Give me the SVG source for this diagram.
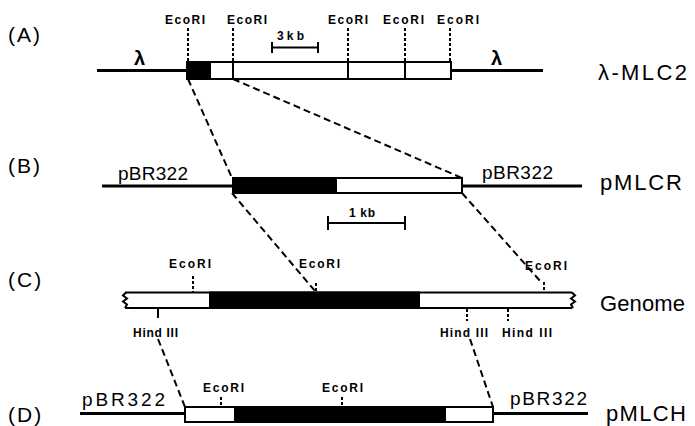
<svg xmlns="http://www.w3.org/2000/svg" width="695" height="426" viewBox="0 0 695 426">
<style>
text{font-family:"Liberation Sans",Arial,sans-serif;fill:#000}
.panel{font-size:21px;letter-spacing:2px}
.name{font-size:22px}
.site{font-size:12px;font-weight:bold}
.vec{font-size:19px}
.lam{font-size:20px;font-weight:bold}
.thick{stroke:#000;stroke-width:3;fill:none}
.box{stroke:#000;stroke-width:2;fill:#fff}
.blk{fill:#000;stroke:#000;stroke-width:2}
.div{stroke:#000;stroke-width:2}
.dot{stroke:#000;stroke-width:2;stroke-dasharray:3 2;fill:none}
.dash{stroke:#000;stroke-width:2;stroke-dasharray:7 4;fill:none}
.bar{stroke:#000;stroke-width:2;fill:none}
</style>
<rect width="695" height="426" fill="#fff"/>

<g id="panel-labels">
<text class="panel" x="8" y="42">(A)</text>
<text class="panel" x="8" y="173">(B)</text>
<text class="panel" x="8" y="287">(C)</text>
<text class="panel" x="8" y="422">(D)</text>
</g>

<g id="lambda-MLC2">
<line class="thick" x1="97" y1="70.5" x2="187" y2="70.5"/>
<line class="thick" x1="451" y1="70.5" x2="543" y2="70.5"/>
<rect class="box" x="187" y="62" width="264" height="17"/>
<rect class="blk" x="187" y="62" width="23" height="17"/>
<line class="div" x1="233" y1="62" x2="233" y2="79"/>
<line class="div" x1="348" y1="62" x2="348" y2="79"/>
<line class="div" x1="405" y1="62" x2="405" y2="79"/>
<line class="dot" x1="188" y1="28" x2="188" y2="62"/>
<line class="dot" x1="233" y1="28" x2="233" y2="62"/>
<line class="dot" x1="348" y1="28" x2="348" y2="62"/>
<line class="dot" x1="405" y1="28" x2="405" y2="62"/>
<line class="dot" x1="450" y1="28" x2="450" y2="62"/>
<text class="site" x="165" y="24" textLength="40">EcoRI</text>
<text class="site" x="227" y="24" textLength="40">EcoRI</text>
<text class="site" x="328" y="24" textLength="40">EcoRI</text>
<text class="site" x="383" y="24" textLength="41">EcoRI</text>
<text class="site" x="437" y="24" textLength="42">EcoRI</text>
<text class="lam" x="134" y="65">λ</text>
<text class="lam" x="491" y="65">λ</text>
<text class="name" x="598" y="80" textLength="89">λ-MLC2</text>
<path class="bar" d="M272,42V53M272,47.5H318M318,42V53"/>
<text class="site" x="277" y="40" textLength="27">3kb</text>
</g>

<g id="pMLCR">
<line class="thick" x1="102" y1="186" x2="233" y2="186"/>
<line class="thick" x1="462" y1="186" x2="582" y2="186"/>
<rect class="box" x="233" y="178" width="229" height="15"/>
<rect class="blk" x="233" y="178" width="103" height="15"/>
<text class="vec" x="118" y="180" textLength="70">pBR322</text>
<text class="vec" x="482" y="179" textLength="71">pBR322</text>
<text class="name" x="600" y="190" textLength="82">pMLCR</text>
<path class="bar" d="M328,216V230M328,223H405M405,216V230"/>
<text class="site" x="349" y="217" textLength="26">1 kb</text>
</g>

<g id="genome">
<rect x="125" y="292.5" width="447" height="15.5" fill="#fff"/>
<rect class="blk" x="210" y="292.5" width="209" height="15.5"/>
<path class="div" fill="none" d="M125,292.5H572M125,308H572"/>
<path class="div" fill="none" d="M126,292.5L123,295.5L127,298.5L123,301.5L127,304.5L125,308"/>
<path class="div" fill="none" d="M572,292.5L575,295.5L571,298.5L575,301.5L571,304.5L573,308"/>
<line class="dot" x1="193" y1="276" x2="193" y2="292"/>
<line class="dot" x1="316" y1="283" x2="316" y2="292"/>
<line class="dot" x1="544" y1="282" x2="544" y2="292"/>
<line class="div" x1="158" y1="308" x2="158" y2="318"/>
<line class="dot" x1="467" y1="309" x2="467" y2="321"/>
<line class="dot" x1="508" y1="309" x2="508" y2="321"/>
<text class="site" x="169" y="268" textLength="42">EcoRI</text>
<text class="site" x="299" y="268" textLength="41">EcoRI</text>
<text class="site" x="525" y="270" textLength="42">EcoRI</text>
<text class="site" x="133" y="337" textLength="45">Hind III</text>
<text class="site" x="440" y="337" textLength="48">Hind III</text>
<text class="site" x="502" y="337" textLength="50">Hind III</text>
<text class="name" x="600" y="311" textLength="85">Genome</text>
</g>

<g id="pMLCH">
<line class="thick" x1="80" y1="413.5" x2="185" y2="413.5"/>
<line class="thick" x1="493" y1="413.5" x2="588" y2="413.5"/>
<rect class="box" x="185" y="407" width="308" height="15"/>
<rect class="blk" x="235" y="407" width="210" height="15"/>
<line class="dot" x1="221" y1="397" x2="221" y2="407"/>
<line class="dot" x1="342" y1="397" x2="342" y2="407"/>
<text class="site" x="203" y="392" textLength="41">EcoRI</text>
<text class="site" x="322" y="392" textLength="41">EcoRI</text>
<text class="vec" x="82" y="406" font-size="20" textLength="83">pBR322</text>
<text class="vec" x="510" y="405" textLength="77">pBR322</text>
<text class="name" x="606" y="421" textLength="80">pMLCH</text>
</g>

<g id="connectors">
<line class="dash" x1="188" y1="79" x2="232" y2="178"/>
<line class="dash" x1="233" y1="79" x2="462" y2="178"/>
<line class="dash" x1="232" y1="193" x2="315" y2="291"/>
<line class="dash" x1="462" y1="193" x2="541" y2="282"/>
<line class="dash" x1="158" y1="339" x2="185" y2="407"/>
<line class="dash" x1="470" y1="339" x2="493" y2="407"/>
</g>
</svg>
